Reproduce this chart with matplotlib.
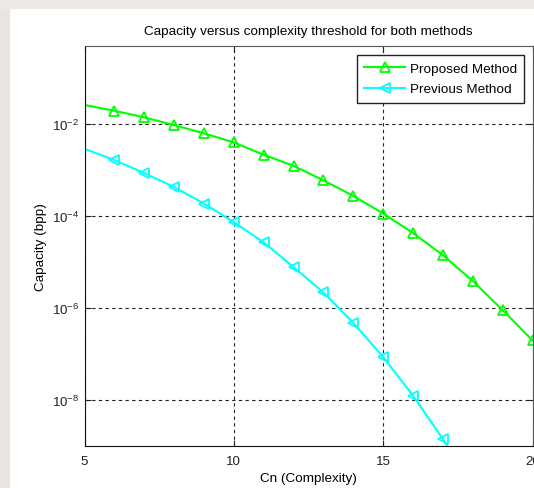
import matplotlib
matplotlib.use("Agg")
import matplotlib.pyplot as plt
from matplotlib.ticker import FixedLocator, NullLocator
from matplotlib.patches import Rectangle

plt.rcParams['font.family'] = ['Liberation Sans', 'DejaVu Sans']
plt.rcParams['mathtext.fontset'] = 'custom'
plt.rcParams['mathtext.rm'] = 'Liberation Sans'
plt.rcParams['mathtext.it'] = 'Liberation Sans'

# Data
cn_proposed = [5, 6, 7, 8, 9, 10, 11, 12, 13, 14, 15, 16, 17, 18, 19, 20]
cap_proposed = [2.6e-2, 1.95e-2, 1.4e-2, 9.5e-3, 6.3e-3, 4.0e-3, 2.15e-3, 1.24e-3,
                6.0e-4, 2.76e-4, 1.14e-4, 4.3e-5, 1.42e-5, 3.9e-6, 9.1e-7, 2.0e-7]
cn_previous = [5, 6, 7, 8, 9, 10, 11, 12, 13, 14, 15, 16, 17, 18]
cap_previous = [2.9e-3, 1.65e-3, 8.6e-4, 4.3e-4, 1.88e-4, 7.4e-5, 2.7e-5, 7.8e-6,
                2.2e-6, 4.8e-7, 8.7e-8, 1.26e-8, 1.44e-9, 1.2e-10]
x_ticks = [5, 10, 15, 20]
y_ticks = [1e-8, 1e-6, 1e-4, 1e-2]
y_tick_labels = ['$10^{-8}$', '$10^{-6}$', '$10^{-4}$', '$10^{-2}$']

fig = plt.figure(figsize=(5.34, 4.89), dpi=100)
fig.patch.set_facecolor('white')
# light grey border band (background behind the figure)
fig.patches.append(Rectangle((0, 0), 10/534, 1, transform=fig.transFigure,
                             facecolor='#e8e4e1', edgecolor='none', zorder=-10))
fig.patches.append(Rectangle((0, 1 - 10/489), 1, 10/489, transform=fig.transFigure,
                             facecolor='#ece9e6', edgecolor='none', zorder=-10))

ax = fig.add_axes([84.5/534, (489-447.3)/489, (532.5-84.5)/534, (447.3-47.3)/489])

ax.plot(cn_proposed, cap_proposed, color='#00ff00', lw=1.5, marker='^', ms=7,
        mfc='none', mec='#00ff00', mew=1.3, markevery=slice(1, None),
        label='Proposed Method')
ax.plot(cn_previous, cap_previous, color='#00ffff', lw=1.5, marker='<', ms=7,
        mfc='none', mec='#00ffff', mew=1.3, markevery=slice(1, None),
        label='Previous Method')

ax.set_yscale('log')
ax.set_xlim(5, 20)
ax.set_ylim(1e-9, 10**-0.31)
ax.xaxis.set_major_locator(FixedLocator(x_ticks))
ax.set_xticklabels([str(v) for v in x_ticks])
ax.yaxis.set_major_locator(FixedLocator(y_ticks))
ax.yaxis.set_minor_locator(NullLocator())
ax.set_yticklabels(y_tick_labels)
ax.tick_params(direction='in', length=4, width=0.8, labelsize=9.6, colors='#222222',
               top=True, right=True)
ax.tick_params(axis='x', pad=6.5)
ax.tick_params(axis='y', pad=4)
ax.grid(True, which='major', linestyle=(0, (3, 3)), color='#222222', lw=0.8)
for s in ['left', 'bottom']:
    ax.spines[s].set_color('#111111')
for s in ['top', 'right']:
    ax.spines[s].set_color('#555555')

ax.set_title('Capacity versus complexity threshold for both methods', fontsize=9.7, pad=8.5)
ax.set_xlabel('Cn (Complexity)', fontsize=9.7, labelpad=3.5)
ax.set_ylabel('Capacity (bpp)', fontsize=9.7, labelpad=3)

leg = ax.legend(loc='upper right', bbox_to_anchor=(0.982, 0.979), borderaxespad=0,
                fontsize=9.7, handlelength=3.0, fancybox=False, framealpha=1,
                edgecolor='#222222', borderpad=0.55, labelspacing=0.62,
                handletextpad=0.38)
leg.get_frame().set_linewidth(1.0)

fig.savefig('out.png', dpi=100)
